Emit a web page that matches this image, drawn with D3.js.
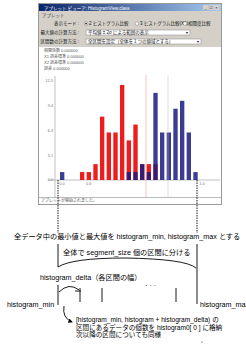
<!DOCTYPE html>
<html>
<head>
<meta charset="utf-8">
<style>
  body { margin: 0; background: #fff; }
  svg { display: block; font-family: "Liberation Sans", "Noto Sans CJK JP", sans-serif; }
</style>
</head>
<body>
<svg width="246" height="345"></svg>
<script src="https://d3js.org/d3.v7.min.js"></script>
<script>
// histogram counts per interval (21 intervals)
const redCounts  = [0, 0, 0, 1, 1, 2, 8, 6, 6, 12, 5, 7, 2, 2, 2, 0, 0, 0, 0, 0, 0];
const blueCounts = [1, 0, 0, 0, 0, 0, 0, 0, 0, 0, 1, 1, 2, 1, 11, 6, 6, 9, 10, 6, 1];
const yTicks = [0, 3.125, 6.25, 9.375, 12.5];
const xTickLabels = [[0, "0.0"], [4, "0.6"], [21, "1.0"]];
const statLines = ["相関係数  0.000000", "X1 誤差標準  0.000000", "X2 誤差標準  0.000000", "誤差  0.000000"];

const svg = d3.select("svg");

// ---- applet window ----
const win = svg.append("g");
win.append("rect").attr("x", 38.5).attr("y", 3.5).attr("width", 183).attr("height", 201)
  .attr("fill", "#fff").attr("stroke", "#999");

const grad = svg.append("defs").append("linearGradient").attr("id", "tb");
grad.append("stop").attr("offset", 0).attr("stop-color", "#0a246a");
grad.append("stop").attr("offset", 1).attr("stop-color", "#a6caf0");
win.append("rect").attr("x", 39).attr("y", 4).attr("width", 182).attr("height", 7).attr("fill", "url(#tb)");
win.append("text").attr("x", 44).attr("y", 9.5).attr("font-size", 4.5).attr("fill", "#fff")
  .text("アプレット ビューア: HistogramView.class");
["_", "□", "×"].forEach((s, i) => {
  win.append("rect").attr("x", 203 + i * 5.5).attr("y", 5).attr("width", 5).attr("height", 5).attr("fill", "#d4d0c8");
  win.append("text").attr("x", 205.5 + i * 5.5).attr("y", 9.3).attr("font-size", 4).attr("text-anchor", "middle").text(s);
});

win.append("rect").attr("x", 39).attr("y", 11).attr("width", 182).attr("height", 36).attr("fill", "#d4d0c8");
win.append("text").attr("x", 42).attr("y", 16.5).attr("font-size", 4.5).attr("fill", "#333").text("アプレット");

const lab = win.append("g").attr("font-size", 4.5).attr("fill", "#111");
lab.append("text").attr("x", 79).attr("y", 25).attr("text-anchor", "end").text("表示モード :");
lab.append("text").attr("x", 79).attr("y", 34).attr("text-anchor", "end").text("最大値の計算方法 :");
lab.append("text").attr("x", 79).attr("y", 43).attr("text-anchor", "end").text("区間数の計算方法 :");

[[86, "2 ヒストグラム比較", true], [137, "3 ヒストグラム比較(X1)", false], [185, "相関度比較", false]].forEach(([x, t, on]) => {
  lab.append("circle").attr("cx", x).attr("cy", 23.6).attr("r", 1.8).attr("fill", "#fff").attr("stroke", "#777").attr("stroke-width", 0.5);
  if (on) lab.append("circle").attr("cx", x).attr("cy", 23.6).attr("r", 0.8).attr("fill", "#000");
  lab.append("text").attr("x", x + 3).attr("y", 25).text(t);
});
[[31, 190, "平均値 ± 2σ による範囲の表示"], [40, 201, "全区間を設定（全体を１つの値域とする）"]].forEach(([y, x2, t]) => {
  lab.append("rect").attr("x", 86).attr("y", y - 1).attr("width", x2 - 86).attr("height", 5)
    .attr("fill", "#fff").attr("stroke", "#888").attr("stroke-width", 0.5);
  lab.append("text").attr("x", 88).attr("y", y + 2.8).text(t);
  lab.append("text").attr("x", x2 - 3).attr("y", y + 2.8).attr("font-size", 3.5).attr("text-anchor", "middle").text("▼");
});

win.append("g").attr("font-size", 4).attr("fill", "#555")
  .selectAll("text").data(statLines).join("text")
  .attr("x", 44).attr("y", (d, i) => 52 + i * 6).text(d => d);

win.append("line").attr("x1", 39).attr("x2", 221).attr("y1", 197.5).attr("y2", 197.5).attr("stroke", "#bbb");
win.append("text").attr("x", 41).attr("y", 202).attr("font-size", 4).attr("fill", "#555").text("アプレットが開始されました。");

// ---- histogram ----
const x = d3.scaleLinear().domain([0, 21]).range([60, 200]);
const y = d3.scaleLinear().domain([0, 12.5]).range([180, 81]);
const bw = (x(1) - x(0)) * 0.65;

const plot = svg.append("g");
plot.append("line").attr("x1", 55).attr("x2", 55).attr("y1", 76).attr("y2", 198).attr("stroke", "#999").attr("stroke-width", 0.6);
plot.append("line").attr("x1", 48).attr("x2", 220).attr("y1", y(0)).attr("y2", y(0)).attr("stroke", "#999").attr("stroke-width", 0.6);

plot.append("g").attr("font-size", 3.8).attr("fill", "#777").attr("text-anchor", "end")
  .selectAll("text").data(yTicks).join("text")
  .attr("x", 53).attr("y", d => y(d) + 1.3).text(d => d3.format(".1f")(d));

plot.selectAll("rect.red").data(redCounts).join("rect").attr("class", "red")
  .attr("x", (d, i) => x(i)).attr("width", bw)
  .attr("y", d => y(d)).attr("height", d => y(0) - y(d))
  .attr("fill", "#ee1c1c");
plot.selectAll("rect.blue").data(blueCounts).join("rect").attr("class", "blue")
  .attr("x", (d, i) => x(i)).attr("width", bw)
  .attr("y", d => y(d)).attr("height", d => y(0) - y(d))
  .attr("fill", "#1a1a80").attr("fill-opacity", 0.85);

plot.append("line").attr("x1", 146).attr("x2", 146).attr("y1", 75).attr("y2", 197).attr("stroke", "#e88").attr("stroke-width", 0.5);
plot.append("line").attr("x1", 168).attr("x2", 168).attr("y1", 75).attr("y2", 197).attr("stroke", "#bbb").attr("stroke-width", 0.5);

plot.append("g").attr("font-size", 3.8).attr("fill", "#777").attr("text-anchor", "middle")
  .selectAll("text").data(xTickLabels).join("text")
  .attr("x", d => x(d[0]) + 2).attr("y", 185).text(d => d[1]);

// ---- explanation diagram ----
const dg = svg.append("g").attr("stroke", "#000").attr("fill", "none").attr("stroke-width", 0.9);
dg.append("line").attr("x1", 58).attr("x2", 58).attr("y1", 180).attr("y2", 233).attr("stroke-dasharray", "1.5,1");
dg.append("line").attr("x1", 197).attr("x2", 197).attr("y1", 180).attr("y2", 233).attr("stroke-dasharray", "1.5,1");
dg.append("line").attr("x1", 58).attr("x2", 58).attr("y1", 244).attr("y2", 267);
dg.append("line").attr("x1", 197).attr("x2", 197).attr("y1", 244).attr("y2", 304);
dg.append("path").attr("d", "M58,267 Q72,258 125,258 Q186,259 196,268");

[58, 80, 102, 176].forEach((xx, i) => {
  dg.append("line").attr("x1", xx).attr("x2", xx).attr("y1", i == 0 ? 285 : 288).attr("y2", i == 0 ? 305 : 302);
});
dg.append("path").attr("d", "M59,292 Q69,282 79,290");
dg.append("line").attr("x1", 75).attr("x2", 81).attr("y1", 291).attr("y2", 291);

svg.append("defs").append("marker").attr("id", "ah").attr("viewBox", "0 0 10 10")
  .attr("refX", 8).attr("refY", 5).attr("markerWidth", 5).attr("markerHeight", 5).attr("orient", "auto")
  .append("path").attr("d", "M0,0 L10,5 L0,10 z").attr("fill", "#000");
dg.append("path").attr("d", "M64,306 Q62,318 72,322").attr("marker-end", "url(#ah)");

const tx = svg.append("g").attr("font-size", 7.2).attr("fill", "#000");
tx.append("text").attr("x", 14).attr("y", 239).text("全データ中の最小値と最大値を histogram_min, histogram_max とする");
tx.append("text").attr("x", 63).attr("y", 255).text("全体で segment_size 個の区間に分ける");
tx.append("text").attr("x", 40).attr("y", 280).text("histogram_delta（各区間の幅）");
tx.append("text").attr("x", 145).attr("y", 288).text("· · ·");
tx.append("text").attr("x", 7).attr("y", 307).text("histogram_min");
tx.append("text").attr("x", 200).attr("y", 307).text("histogram_max");
const note = tx.append("g").attr("font-size", 6.6);
note.append("text").attr("x", 76).attr("y", 322).text("[histogram_min, histogram + histogram_delta) の");
note.append("text").attr("x", 76).attr("y", 329.5).text("区間にあるデータの個数を  histogram0[ 0 ] に格納");
note.append("text").attr("x", 76).attr("y", 337).text("次以降の区間についても同様");
svg.append("circle").attr("cx", 202).attr("cy", 342).attr("r", 0.5).attr("fill", "#000");
</script>
</body>
</html>
